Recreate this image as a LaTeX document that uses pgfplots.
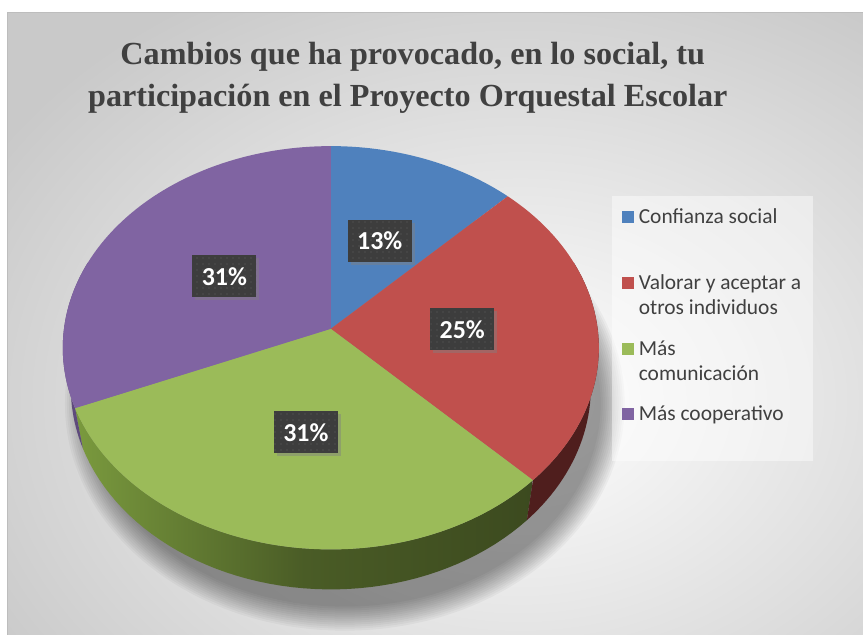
\documentclass[border=0pt]{standalone}
\usepackage{pgfplots}
\pgfplotsset{compat=1.18}
\usepackage{pgfplotstable}
\usepackage{fontspec}
\setmainfont{Carlito}
\newfontfamily\titlefont{Liberation Serif}
\usetikzlibrary{shadows,patterns.meta}

\definecolor{cBlue}{HTML}{4F81BD}
\definecolor{cRed}{HTML}{C0504D}
\definecolor{cGreen}{HTML}{9BBB59}
\definecolor{cPurple}{HTML}{8064A2}
\definecolor{sideRed}{HTML}{4F1E1D}
\definecolor{sidePurple}{HTML}{5E4A7C}
\definecolor{sideGreenL}{HTML}{7A9A3E}
\definecolor{sideGreenM}{HTML}{4A5C26}
\definecolor{sideGreenR}{HTML}{3C4A1F}
\definecolor{txt}{HTML}{404040}
\definecolor{labfill}{HTML}{3D3D3D}
\definecolor{bgout}{HTML}{C9C9C9}
\definecolor{bordc}{HTML}{BDBDBD}

% share of each slice (percent)
\pgfplotstableread{
idx value
0 12.5
1 25
2 31.25
3 31.25
}\piedata

\pgfplotstablegetelem{0}{value}\of\piedata \let\vA\pgfplotsretval
\pgfplotstablegetelem{1}{value}\of\piedata \let\vB\pgfplotsretval
\pgfplotstablegetelem{2}{value}\of\piedata \let\vC\pgfplotsretval
\pgfplotstablegetelem{3}{value}\of\piedata \let\vD\pgfplotsretval
\pgfmathsetmacro\aA{90}
\pgfmathsetmacro\aB{\aA-3.6*\vA}
\pgfmathsetmacro\aC{\aB-3.6*\vB}
\pgfmathsetmacro\aD{\aC-3.6*\vC}
\pgfmathsetmacro\aE{\aD-3.6*\vD}

\begin{document}
\begin{tikzpicture}[
  declare function={
    tx(\t)=331+267*cos(\t)/(1+0.094*sin(\t));
    ty(\t)=329-200*sin(\t)/(1+0.094*sin(\t));
    bx(\t)=331+259*cos(\t)/(1+0.094*sin(\t));
    by(\t)=369-200*sin(\t)/(1+0.094*sin(\t));
  }]
\begin{axis}[width=863bp, height=635bp, scale only axis,
  xmin=0, xmax=863, ymin=0, ymax=635, y dir=reverse,
  hide axis, clip=false]

% page and chart background
\fill[white] (axis cs:0,0) rectangle (axis cs:863,635);
\begin{scope}
\clip (axis cs:8,13) rectangle (axis cs:863,635);
\fill[bgout] (axis cs:8,13) rectangle (axis cs:863,635);
\shade[inner color=white, outer color=bgout] (axis cs:520,400) ellipse [x radius=620bp, y radius=470bp];
\end{scope}
\draw[bordc, line width=1bp] (axis cs:8,635) -- (axis cs:8,13) -- (axis cs:863,13);

% soft shadow under the pie
\pgfplotsinvokeforeach{0,...,12}{
  \fill[black, opacity=0.035] (axis cs:345,404) ellipse [x radius={(256+2*#1)*1bp}, y radius={(203+2*#1)*1bp}];
}

% sides of the pie
\shade[left color=sideGreenL, right color=sideGreenR, middle color=sideGreenM]
  plot[variable=\t, domain=\aD:\aC, samples=50] (axis cs:{tx(\t)},{ty(\t)})
  -- plot[variable=\t, domain=\aC:\aD, samples=50] (axis cs:{bx(\t)},{by(\t)}) -- cycle;
\fill[sideRed]
  plot[variable=\t, domain=\aC:20, samples=40] (axis cs:{tx(\t)},{ty(\t)})
  -- plot[variable=\t, domain=20:\aC, samples=40] (axis cs:{bx(\t)},{by(\t)}) -- cycle;
\fill[sidePurple]
  plot[variable=\t, domain=-200:\aD, samples=30] (axis cs:{tx(\t)},{ty(\t)})
  -- plot[variable=\t, domain=\aD:-200, samples=30] (axis cs:{bx(\t)},{by(\t)}) -- cycle;

% top faces
\addplot[fill=cBlue, draw=none, variable=\t, domain=\aB:\aA, samples=40]
  ({tx(\t)},{ty(\t)}) -- (axis cs:331,329) -- cycle;
\addplot[fill=cRed, draw=none, variable=\t, domain=\aC:\aB, samples=60]
  ({tx(\t)},{ty(\t)}) -- (axis cs:331,329) -- cycle;
\addplot[fill=cGreen, draw=none, variable=\t, domain=\aD:\aC, samples=70]
  ({tx(\t)},{ty(\t)}) -- (axis cs:331,329) -- cycle;
\addplot[fill=cPurple, draw=none, variable=\t, domain=\aE:\aD, samples=70]
  ({tx(\t)},{ty(\t)}) -- (axis cs:331,329) -- cycle;

% data labels
\tikzset{lab/.style={fill=labfill, text=white, inner sep=0pt,
  minimum width=64bp, minimum height=42bp,
  font=\bfseries\fontsize{26}{26}\selectfont,
  drop shadow={shadow xshift=3bp, shadow yshift=-3bp, opacity=0.45},
  postaction={pattern={Dots[radius=0.6bp, distance=6bp]}, pattern color=gray!75!black}}}
\node[lab] at (axis cs:380,241) {13\%};
\node[lab] at (axis cs:462.5,329.5) {25\%};
\node[lab] at (axis cs:306,432.5) {31\%};
\node[lab] at (axis cs:224.5,276.5) {31\%};

% title
\node[anchor=base, text=txt, font=\titlefont\bfseries\fontsize{32.3}{38}\selectfont] at (axis cs:413,64.3) {Cambios que ha provocado, en lo social, tu};
\node[anchor=base, text=txt, font=\titlefont\bfseries\fontsize{32.3}{38}\selectfont] at (axis cs:408,106.3) {participación en el Proyecto Orquestal Escolar};

% legend
\fill[white, opacity=0.45] (axis cs:612,196) rectangle (axis cs:813,461);
\tikzset{leg/.style={anchor=base west, text=txt, inner sep=0pt, font=\fontsize{21.5}{25}\selectfont}}
\fill[cBlue] (axis cs:622.3,210.7) rectangle (axis cs:634.3,222.7);
\node[leg] at (axis cs:639,223.4) {Confianza social};
\fill[cRed] (axis cs:622.3,277.3) rectangle (axis cs:634.3,289.3);
\node[leg] at (axis cs:639,289.4) {Valorar y aceptar a};
\node[leg] at (axis cs:639,315) {otros individuos};
\fill[cGreen] (axis cs:622.3,343.3) rectangle (axis cs:634.3,355.3);
\node[leg] at (axis cs:639,355.6) {Más};
\node[leg] at (axis cs:639,381) {comunicación};
\fill[cPurple] (axis cs:622.3,408.3) rectangle (axis cs:634.3,420.3);
\node[leg] at (axis cs:639,420.6) {Más cooperativo};
\end{axis}
\end{tikzpicture}
\end{document}
